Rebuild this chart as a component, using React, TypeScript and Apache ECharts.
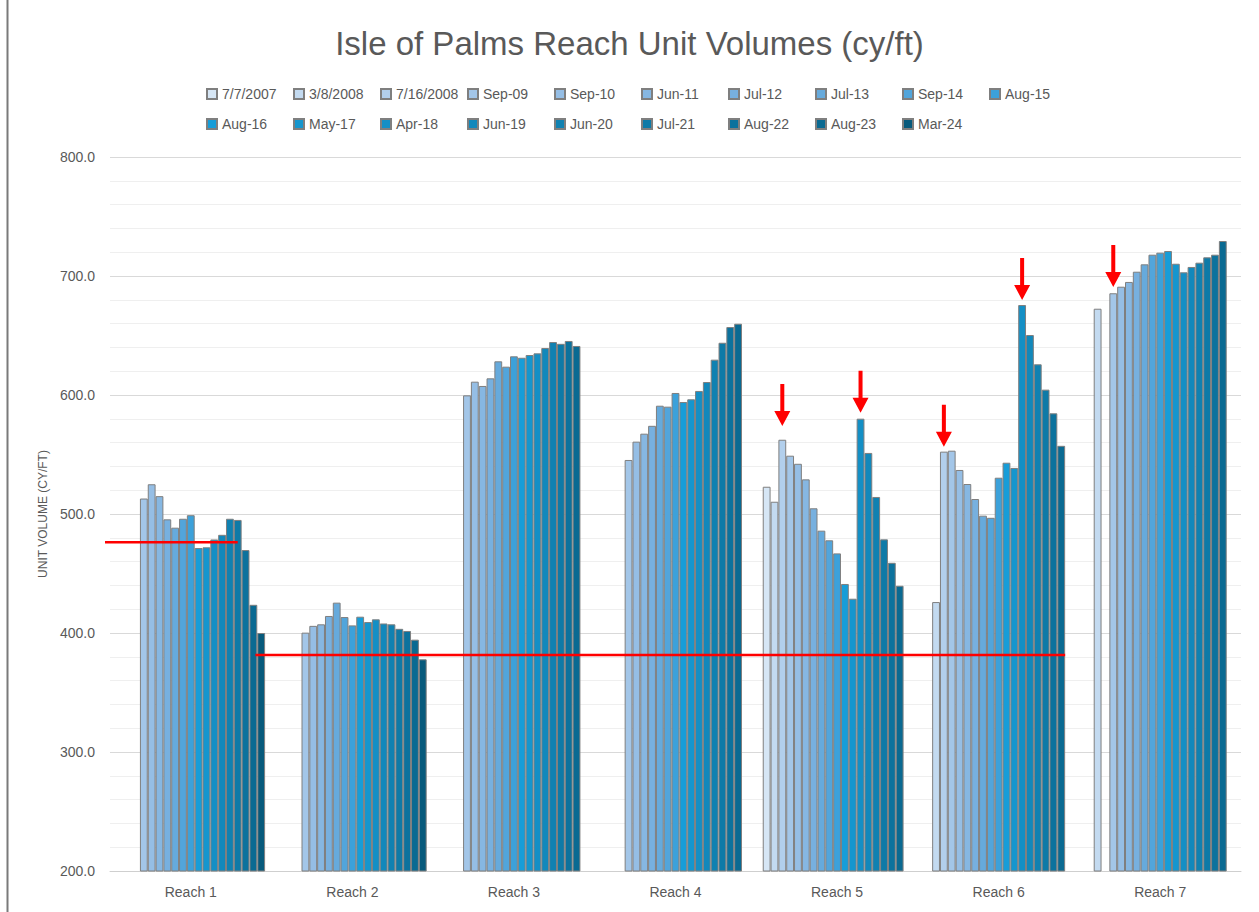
import React, { useEffect, useRef } from "react";
import * as echarts from "echarts";

const reaches = ["Reach 1", "Reach 2", "Reach 3", "Reach 4", "Reach 5", "Reach 6", "Reach 7"];
const surveys = [
  "7/7/2007", "3/8/2008", "7/16/2008", "Sep-09", "Sep-10", "Jun-11", "Jul-12", "Jul-13", "Sep-14", "Aug-15",
  "Aug-16", "May-17", "Apr-18", "Jun-19", "Jun-20", "Jul-21", "Aug-22", "Aug-23", "Mar-24",
];

// Unit volumes (cy/ft) per reach, one value per survey (null = not surveyed)
const reach1 = [null, null, null, 513, 525, 515, 495.5, 488.5, 496, 499, 471.4, 472, 478.6, 482.5, 496, 495, 469.7, 423.7, 400];
const reach2 = [null, null, null, 400.3, 406, 407.3, 414.3, 425.5, 413.4, 406.4, 413.7, 409.2, 411.5, 408, 407.3, 403.5, 401.7, 394.4, 377.9];
const reach3 = [null, null, null, 599.7, 611.2, 607.6, 614, 628.3, 623.8, 632.5, 631.3, 633.6, 635, 639.5, 644.5, 643, 645.4, 641.2, null];
const reach4 = [null, null, null, 545.4, 560.8, 567.5, 574.1, 591, 590.2, 601.7, 594.1, 596.4, 603.4, 610.9, 629.7, 643.9, 657.1, 659.9, null];
const reach5 = [522.9, 510.3, 562.4, 549, 542.2, 529.1, 504.8, 486, 477.9, 466.9, 441.2, 428.8, 580.1, 551.3, 514.3, 478.7, 459, 439.7, null];
const reach6 = [null, 426, 552.4, 553.2, 537, 525.2, 512.6, 498.6, 496.8, 530.5, 543.1, 538.7, 675.6, 650.4, 625.8, 604.5, 584.6, 557.3, null];
const reach7 = [null, 672.5, null, 685.5, 691, 695, 703.6, 709.8, 717.9, 719.6, 721, 710.3, 703.1, 707.6, 711.2, 715.7, 717.9, 729.4, null];
const reachData = [reach1, reach2, reach3, reach4, reach5, reach6, reach7];

const yTicks = [200, 300, 400, 500, 600, 700, 800];

// Red arrows: survey index, reach index, value at the arrow tip
const arrowSurvey = [2, 12, 2, 12, 3];
const arrowReach = [4, 4, 5, 5, 6];
const arrowTip = [574, 585, 556.6, 679.8, 690.8];

// Red reference levels (cy/ft)
const refLevels = [476.2, 381.5];

const colors = [
  "#d6e6f5", "#c3daf0", "#b2cfec", "#a3c6e8", "#95bee5", "#86b7e2", "#77b0df", "#66aadc", "#52a5db", "#3ca1da",
  "#179dd8", "#1596ce", "#148fc5", "#1288bb", "#1081b1", "#0e7aa7", "#0c729d", "#0a6a92", "#075a7c",
];

const ARROW = "path://M6,0 L10,0 L10,27 L16,27 L8,42 L0,27 L6,27 Z";
const FONT = "Liberation Sans, Arial, sans-serif";
const GAP = 0.08;

export default function App() {
  const ref = useRef<HTMLDivElement>(null);
  useEffect(() => {
    if (!ref.current) return;
    const chart = echarts.init(ref.current, null, { renderer: "svg" });
    const series = surveys.map((name, s) => {
      const marks: any[] = [];
      arrowSurvey.forEach((as, i) => {
        if (as === s) marks.push({ coord: [arrowReach[i], arrowTip[i]] });
      });
      return {
        name,
        type: "bar",
        data: reachData.map((r) => r[s]),
        barGap: "0%",
        barCategoryGap: GAP * 100 + "%",
        itemStyle: { color: colors[s], borderColor: "#7f7f7f", borderWidth: 1 },
        markPoint: marks.length
          ? {
              symbol: ARROW,
              symbolSize: [16, 42],
              symbolOffset: [0, "-50%"],
              itemStyle: { color: "#ff0000" },
              label: { show: false },
              silent: true,
              z: 10,
              data: marks,
            }
          : undefined,
      };
    });
    chart.setOption({
      animation: false,
      backgroundColor: "#ffffff",
      textStyle: { fontFamily: FONT },
      title: {
        text: "Isle of Palms Reach Unit Volumes (cy/ft)",
        left: "center",
        top: 19,
        textStyle: { fontSize: 33, fontWeight: "normal", color: "#595959", fontFamily: FONT, lineHeight: 38 },
      },
      legend: {
        data: surveys,
        left: 201,
        top: 74,
        width: 900,
        icon: "rect",
        itemWidth: 10,
        itemHeight: 10,
        itemGap: 0,
        textStyle: { fontSize: 14, color: "#595959", width: 71, lineHeight: 30, fontFamily: FONT },
      },
      grid: { left: 110, right: 18, top: 157, bottom: 41 },
      xAxis: {
        type: "category",
        data: reaches,
        axisLine: { show: true, lineStyle: { color: "#cfcfcf", width: 1 } },
        axisTick: { show: false },
        axisLabel: { fontSize: 14, color: "#595959", margin: 14 },
      },
      yAxis: {
        type: "value",
        min: yTicks[0],
        max: yTicks[yTicks.length - 1],
        interval: 100,
        name: "UNIT VOLUME (CY/FT)",
        nameLocation: "middle",
        nameGap: 61,
        nameTextStyle: { fontSize: 12, color: "#595959" },
        axisLine: { show: false },
        axisTick: { show: false },
        axisLabel: { fontSize: 14, color: "#595959", margin: 15, formatter: (v: number) => v.toFixed(1) },
        splitLine: { lineStyle: { color: "#d9d9d9", width: 1 } },
        minorTick: { show: false, splitNumber: 5 },
        minorSplitLine: { show: true, lineStyle: { color: "#efefef", width: 1 } },
      },
      series,
    });

    const px = (c: number) => chart.convertToPixel({ xAxisIndex: 0 }, c) as number;
    const py = (v: number) => chart.convertToPixel({ yAxisIndex: 0 }, v) as number;
    const band = px(1) - px(0);
    const barW = (band * (1 - GAP)) / surveys.length;
    const slotLeft = (c: number, s: number) => px(c) - band / 2 + (band * GAP) / 2 + s * barW;
    const y1 = py(refLevels[0]);
    const y2 = py(refLevels[1]);
    chart.setOption({
      graphic: [
        { type: "line", shape: { x1: 7.5, y1: 0, x2: 7.5, y2: 912 }, style: { stroke: "#7a7a7a", lineWidth: 2 }, silent: true },
        {
          type: "line",
          z: 100,
          shape: { x1: px(0) - band / 2 - 5, y1, x2: slotLeft(0, 15) + barW / 2, y2: y1 },
          style: { stroke: "#ff0000", lineWidth: 2.5 },
          silent: true,
        },
        {
          type: "line",
          z: 100,
          shape: { x1: slotLeft(0, 17) + barW * 0.75, y1: y2, x2: slotLeft(5, 17) + barW, y2 },
          style: { stroke: "#ff0000", lineWidth: 2.5 },
          silent: true,
        },
      ],
    });
    return () => chart.dispose();
  }, []);
  return <div ref={ref} style={{ position: "fixed", left: 0, top: 0, width: 1259, height: 912 }} />;
}
